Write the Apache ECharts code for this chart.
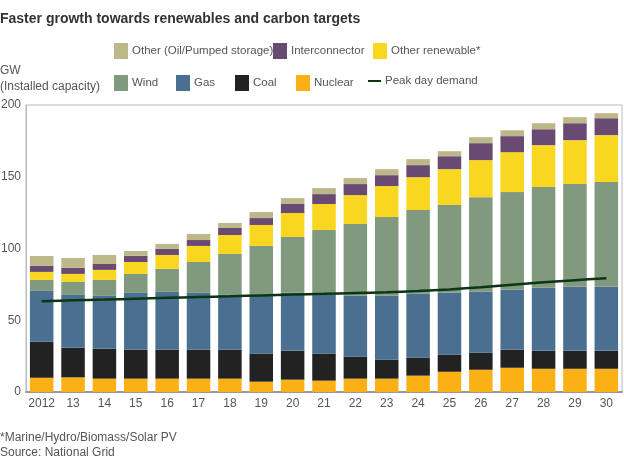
<!DOCTYPE html>
<html>
<head>
<meta charset="utf-8">
<script src="https://cdn.jsdelivr.net/npm/echarts@6/dist/echarts.min.js"></script>
<style>
html,body{margin:0;padding:0;background:#fff;}
#chart{width:624px;height:470px;}
</style>
</head>
<body>
<div id="chart"></div>
<script>
var years = ['2012','13','14','15','16','17','18','19','20','21','22','23','24','25','26','27','28','29','30'];
var nuclear = [10.0,10.2,9.3,9.3,9.3,9.3,9.3,7.2,8.6,7.9,9.3,9.3,11.4,14.1,15.5,16.9,16.2,16.2,16.2];
var coal = [25.0,20.6,20.8,20.1,20.1,20.1,20.1,19.5,20.1,18.8,15.3,13.2,12.5,11.9,11.9,12.5,12.5,12.5,12.5];
var gas = [35.5,36.9,36.9,39.7,40.4,39.7,38.3,41.0,40.4,41.0,42.4,44.5,44.5,43.1,42.4,41.8,43.9,44.6,44.6];
var wind = [7.6,9.0,11.1,13.2,16.0,21.5,28.5,34.1,38.9,45.2,50.1,54.9,58.4,61.2,66.0,68.1,70.2,71.6,73.0];
var otherRenewable = [5.6,5.6,7.0,8.3,9.7,11.2,13.2,14.6,16.7,18.1,20.1,21.6,22.9,25.0,25.8,27.8,29.2,30.6,32.7];
var interconnector = [4.2,4.2,4.1,4.4,4.2,4.1,4.9,4.8,6.3,6.9,7.7,7.6,8.4,9.0,11.8,11.2,11.1,11.8,11.8];
var otherOil = [6.9,6.9,6.3,3.3,3.5,4.2,3.5,4.2,4.1,4.2,4.2,4.2,4.2,3.5,4.2,4.1,4.2,4.2,3.5];
var peakDemand = [63.3,63.9,64.4,65.0,65.6,66.2,66.7,67.3,67.9,68.4,69.0,69.5,70.3,71.5,73.0,74.8,76.4,77.9,79.3];
var yTicks = [0,50,100,150,200];

var font = '"Liberation Sans", Arial, Helvetica, sans-serif';
var txt = '#555';

function leg(name, left, top, opts) {
    var l = {
        data: [name], left: left, top: top, padding: 0,
        icon: 'rect', itemWidth: 14, itemHeight: 16, itemGap: 0,
        selectedMode: false,
        textStyle: { color: txt, fontSize: 11.5, fontFamily: font, padding: [0, 0, 0, -1] }
    };
    for (var k in opts) l[k] = opts[k];
    return l;
}

function barSeries(name, data, color) {
    return {
        name: name, type: 'bar', stack: 'cap', data: data,
        barCategoryGap: '25%',
        itemStyle: { color: color },
        emphasis: { disabled: true }
    };
}

var myChart = echarts.init(document.getElementById('chart'));
var option = {
    animation: false,
    textStyle: { fontFamily: font },
    title: [{
        text: 'Faster growth towards renewables and carbon targets',
        left: 0, top: 12, padding: 0,
        textStyle: { fontSize: 14, fontWeight: 'bold', color: '#333', fontFamily: font }
    }, {
        text: 'GW\n(Installed capacity)',
        left: 0, top: 63, padding: 0,
        textStyle: { fontSize: 12, fontWeight: 'normal', color: txt, lineHeight: 16, fontFamily: font }
    }, {
        text: '*Marine/Hydro/Biomass/Solar PV\nSource: National Grid',
        left: 0, top: 430, padding: 0,
        textStyle: { fontSize: 12, fontWeight: 'normal', color: txt, lineHeight: 15, fontFamily: font }
    }],
    legend: [
        leg('Other (Oil/Pumped storage)', 114, 43),
        leg('Interconnector', 273, 43),
        leg('Other renewable*', 373, 43),
        leg('Wind', 114, 75),
        leg('Gas', 176, 75),
        leg('Coal', 235, 75),
        leg('Nuclear', 296, 75),
        leg('Peak day demand', 368, 75, { itemWidth: 13, itemHeight: 2 })
    ],
    grid: {
        left: 26, right: 2, top: 105, bottom: 78,
        outerBoundsMode: 'none',
        show: true, borderColor: '#bbb', borderWidth: 1
    },
    xAxis: {
        type: 'category',
        data: years,
        axisLine: { lineStyle: { color: '#999', width: 2 } },
        axisTick: { show: false },
        axisLabel: { color: txt, fontSize: 12, margin: 6, interval: 0, fontFamily: font }
    },
    yAxis: {
        type: 'value',
        min: yTicks[0], max: yTicks[yTicks.length - 1], interval: 50,
        splitLine: { show: false },
        axisLine: { show: true, lineStyle: { color: '#bbb' } },
        axisTick: { show: false },
        axisLabel: { color: txt, fontSize: 12, margin: 5, fontFamily: font }
    },
    series: [
        barSeries('Nuclear', nuclear, '#fbb116'),
        barSeries('Coal', coal, '#222222'),
        barSeries('Gas', gas, '#4a6f91'),
        barSeries('Wind', wind, '#80997f'),
        barSeries('Other renewable*', otherRenewable, '#f9d720'),
        barSeries('Interconnector', interconnector, '#684a72'),
        barSeries('Other (Oil/Pumped storage)', otherOil, '#bdb88a'),
        {
            name: 'Peak day demand', type: 'line', data: peakDemand,
            symbol: 'none', smooth: 0.3, z: 10,
            itemStyle: { color: '#0b3612' },
            lineStyle: { color: '#0b3612', width: 2.5 },
            emphasis: { disabled: true }
        }
    ]
};
myChart.setOption(option);
</script>
</body>
</html>
